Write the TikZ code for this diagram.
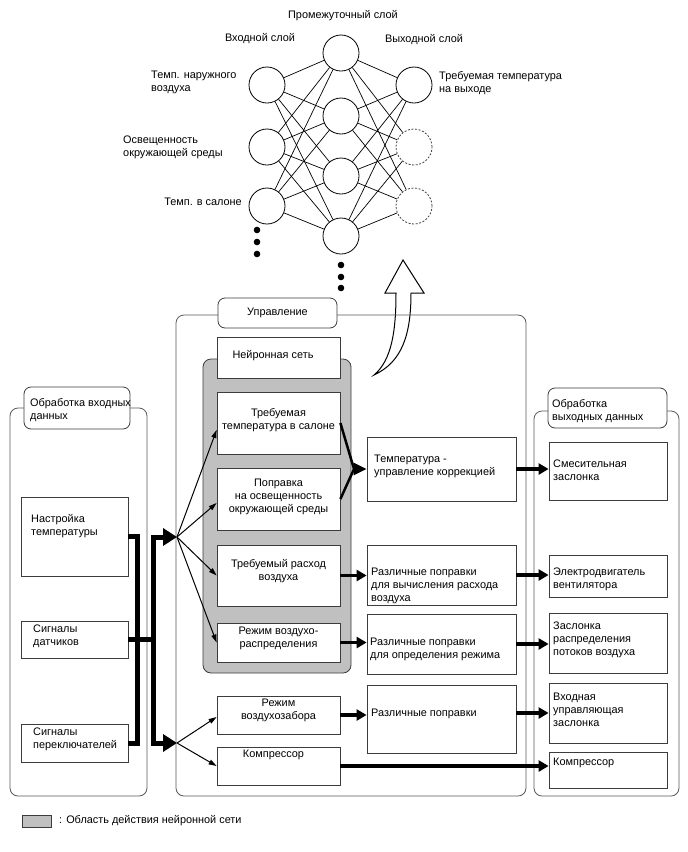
\documentclass[tikz,border=0pt]{standalone}
\usepackage{fontspec}
\setmainfont{Liberation Sans}
\usetikzlibrary{arrows.meta}
\definecolor{zone}{RGB}{192,192,192}
\definecolor{edge}{RGB}{60,60,60}

\begin{document}
\begin{tikzpicture}[x=1pt, y=-1pt, font=\fontsize{10.9}{13}\selectfont,
    neu/.style={draw, circle, minimum size=36pt, inner sep=0pt, line width=0.8pt},
    ghost/.style={neu, draw=black!75, dash pattern=on 2pt off 1.6pt},
    box/.style={draw=edge, fill=white, line width=0.8pt, inner sep=0pt},
    txt/.style={inner sep=0pt, anchor=west, align=left},
    ctxt/.style={inner sep=0pt, align=center},
    frame/.style={draw=edge!85, line width=0.8pt, rounded corners=8pt},
    tab/.style={draw=edge, fill=white, line width=0.8pt, rounded corners=7pt, inner sep=0pt},
    link/.style={line width=0.7pt},
    thin/.style={line width=1pt, -{Triangle[length=8pt,width=5pt]}},
    fat/.style={line width=3.5pt, -{Triangle[length=10pt,width=11pt]}},
    bus/.style={line width=5pt}]
  \useasboundingbox (0,0) rectangle (688,852);

  % the network itself
  \foreach \y [count=\i] in {85,147,206} \node[neu] (in\i) at (267,\y) {};
  \foreach \y [count=\i] in {53,116,176,236} \node[neu] (hid\i) at (341,\y) {};
  \node[neu] (out1) at (414,85) {};
  \node[ghost] (out2) at (414,147) {};
  \node[ghost] (out3) at (414,206) {};
  \foreach \i in {1,2,3} \foreach \j in {1,...,4} \draw[link] (in\i) -- (hid\j);
  \foreach \j in {1,...,4} \foreach \k in {1,2,3} \draw[link] (hid\j) -- (out\k);
  \foreach \y in {230,242,254} \fill (257,\y) circle (3.3);
  \foreach \y in {265,277,288} \fill (341,\y) circle (3.3);
  \node[ctxt] (lhid) at (343,16) {Промежуточный слой};
  \node[ctxt] (lin) at (260,39) {Входной слой};
  \node[ctxt] (lout) at (424,40) {Выходной слой};
  \node[txt] (lx1) at (151,82) {Темп. наружного\\воздуха};
  \node[txt] (lx2) at (123,147) {Освещенность\\окружающей среды};
  \node[txt, anchor=east] (lx3) at (242,202) {Темп. в салоне};
  \node[txt] (ly1) at (439,83) {Требуемая температура\\на выходе};

  % hollow curved arrow
  \draw[line width=1pt] (374,375) .. controls (392,360) and (396,330) .. (396,293)
    -- (385,293) -- (403,260) -- (424,293) -- (411,293)
    .. controls (411,335) and (402,362) .. (374,375) -- cycle;

  % frames
  \draw[frame] (176,315) rectangle (526,796);
  \node[tab, minimum width=119pt, minimum height=30pt] (tabctl) at (277.5,313) {Управление};
  \draw[frame] (10,408) rectangle (147,796);
  \node[tab, minimum width=106pt, minimum height=42pt] (tabin) at (77,408) {};
  \node[txt] (ltabin) at (30,410) {Обработка входных\\данных};
  \draw[frame] (534,411) rectangle (679,796);
  \node[tab, minimum width=119pt, minimum height=40pt] (tabout) at (607.5,408) {};
  \node[txt] (ltabout) at (552,411.5) {Обработка\\выходных данных};
  \draw[draw=edge, fill=zone, line width=0.8pt, rounded corners=8pt] (203,359) rectangle (351,673);

  % control blocks
  \node[box, minimum width=123pt, minimum height=41pt] (nnet) at (278.5,357.5) {};
  \node[ctxt] (lnnet) at (273,356) {Нейронная сеть};
  \node[box, minimum width=123pt, minimum height=62pt] (reqt) at (278.5,423) {};
  \node[ctxt] (lreqt) at (278.5,420) {Требуемая\\температура в салоне};
  \node[box, minimum width=123pt, minimum height=62pt] (corr) at (278.5,499) {};
  \node[ctxt] (lcorr) at (278.5,497) {Поправка\\на освещенность\\окружающей среды};
  \node[box, minimum width=123pt, minimum height=61pt] (flow) at (278.5,575.5) {};
  \node[ctxt] (lflow) at (278.5,571.5) {Требуемый расход\\воздуха};
  \node[box, minimum width=123pt, minimum height=39pt] (distr) at (278.5,642.5) {};
  \node[ctxt] (ldistr) at (278.5,638) {Режим воздухо-\\распределения};
  \node[box, minimum width=123pt, minimum height=38pt] (intake) at (278.5,715) {};
  \node[ctxt] (lintake) at (278.5,710.5) {Режим\\воздухозабора};
  \node[box, minimum width=123pt, minimum height=38pt] (compL) at (278.5,766) {};
  \node[ctxt] (lcompL) at (273.5,755) {Компрессор};

  % input blocks
  \node[box, minimum width=107pt, minimum height=79pt] (tset) at (74.5,536.5) {};
  \node[txt] (ltset) at (31,526.5) {Настройка\\температуры};
  \node[box, minimum width=107pt, minimum height=37pt] (sens) at (74.5,639.5) {};
  \node[txt] (lsens) at (33,636.5) {Сигналы\\датчиков};
  \node[box, minimum width=107pt, minimum height=38pt] (sw) at (74.5,743) {};
  \node[txt] (lsw) at (33,739.5) {Сигналы\\переключателей};

  % correction blocks
  \node[box, minimum width=149pt, minimum height=64pt] (tcorr) at (441.5,469) {};
  \node[txt] (ltcorr) at (374,466.5) {Температура -\\управление коррекцией};
  \node[box, minimum width=149pt, minimum height=60pt] (vflow) at (441.5,575) {};
  \node[txt] (lvflow) at (371,586) {Различные поправки\\для вычисления расхода\\воздуха};
  \node[box, minimum width=149pt, minimum height=60pt] (vmode) at (441.5,644) {};
  \node[txt] (lvmode) at (370,649.5) {Различные поправки\\для определения режима};
  \node[box, minimum width=149pt, minimum height=68pt] (vcorr) at (441.5,719) {};
  \node[txt] (lvcorr) at (371,714) {Различные поправки};

  % output blocks
  \node[box, minimum width=118pt, minimum height=58pt] (mix) at (608,471) {};
  \node[txt] (lmix) at (553,470) {Смесительная\\заслонка};
  \node[box, minimum width=118pt, minimum height=42pt] (fan) at (608,576) {};
  \node[txt] (lfan) at (553,579.5) {Электродвигатель\\вентилятора};
  \node[box, minimum width=118pt, minimum height=60pt] (damper) at (608,643) {};
  \node[txt] (ldamper) at (553,640) {Заслонка\\распределения\\потоков воздуха};
  \node[box, minimum width=118pt, minimum height=60pt] (inlet) at (608,713) {};
  \node[txt] (linlet) at (553,710) {Входная\\управляющая\\заслонка};
  \node[box, minimum width=118pt, minimum height=36pt] (compR) at (608,770) {};
  \node[txt] (lcompR) at (553,763) {Компрессор};

  % legend
  \node[box, fill=zone, minimum width=29pt, minimum height=12pt] (key) at (36.5,821) {};
  \node[txt] (lkey) at (59,821) {: Область действия нейронной сети};

  % input bus
  \coordinate (fanA) at (177,537);
  \coordinate (fanB) at (177,743);
  \draw[bus] (tset.east) -- ++(9,0) |- (sw.east);
  \draw[bus] (sens.east) -- ++(25,0);
  \draw[bus, {Triangle[length=14pt,width=17pt]}-{Triangle[length=14pt,width=17pt]}]
    (fanA) -- ++(-24,0) |- (fanB);
  \draw[thin] (fanA) -- ([yshift=-7pt]reqt.west);
  \draw[thin] (fanA) -- ([yshift=-4pt]corr.west);
  \draw[thin] (fanA) -- (flow.west);
  \draw[thin] (fanA) -- (distr.west);
  \draw[thin] (fanB) -- ([yshift=-2pt]intake.west);
  \draw[thin] (fanB) -- (compL.west);

  % to the correction and output blocks
  \coordinate (jn) at (354,469);
  \draw[line width=2.5pt, -{Triangle[length=13pt,width=12pt]}] (reqt.east) -- (jn) -- (tcorr.west);
  \draw[line width=2.5pt] (corr.east) -- (jn);
  \draw[fat] (tcorr.east) -- (tcorr.east -| mix.west);
  \draw[fat] (flow.east) -- (flow.east -| vflow.west);
  \draw[fat] (vflow.east) -- (vflow.east -| fan.west);
  \draw[fat] (distr.east) -- (distr.east -| vmode.west);
  \draw[fat] (vmode.east) -- (vmode.east -| damper.west);
  \draw[fat] (intake.east) -- (intake.east -| vcorr.west);
  \draw[fat] (inlet.west -| vcorr.east) -- (inlet.west);
  \draw[fat] (compL.east) -- (compL.east -| compR.west);
\end{tikzpicture}
\end{document}
